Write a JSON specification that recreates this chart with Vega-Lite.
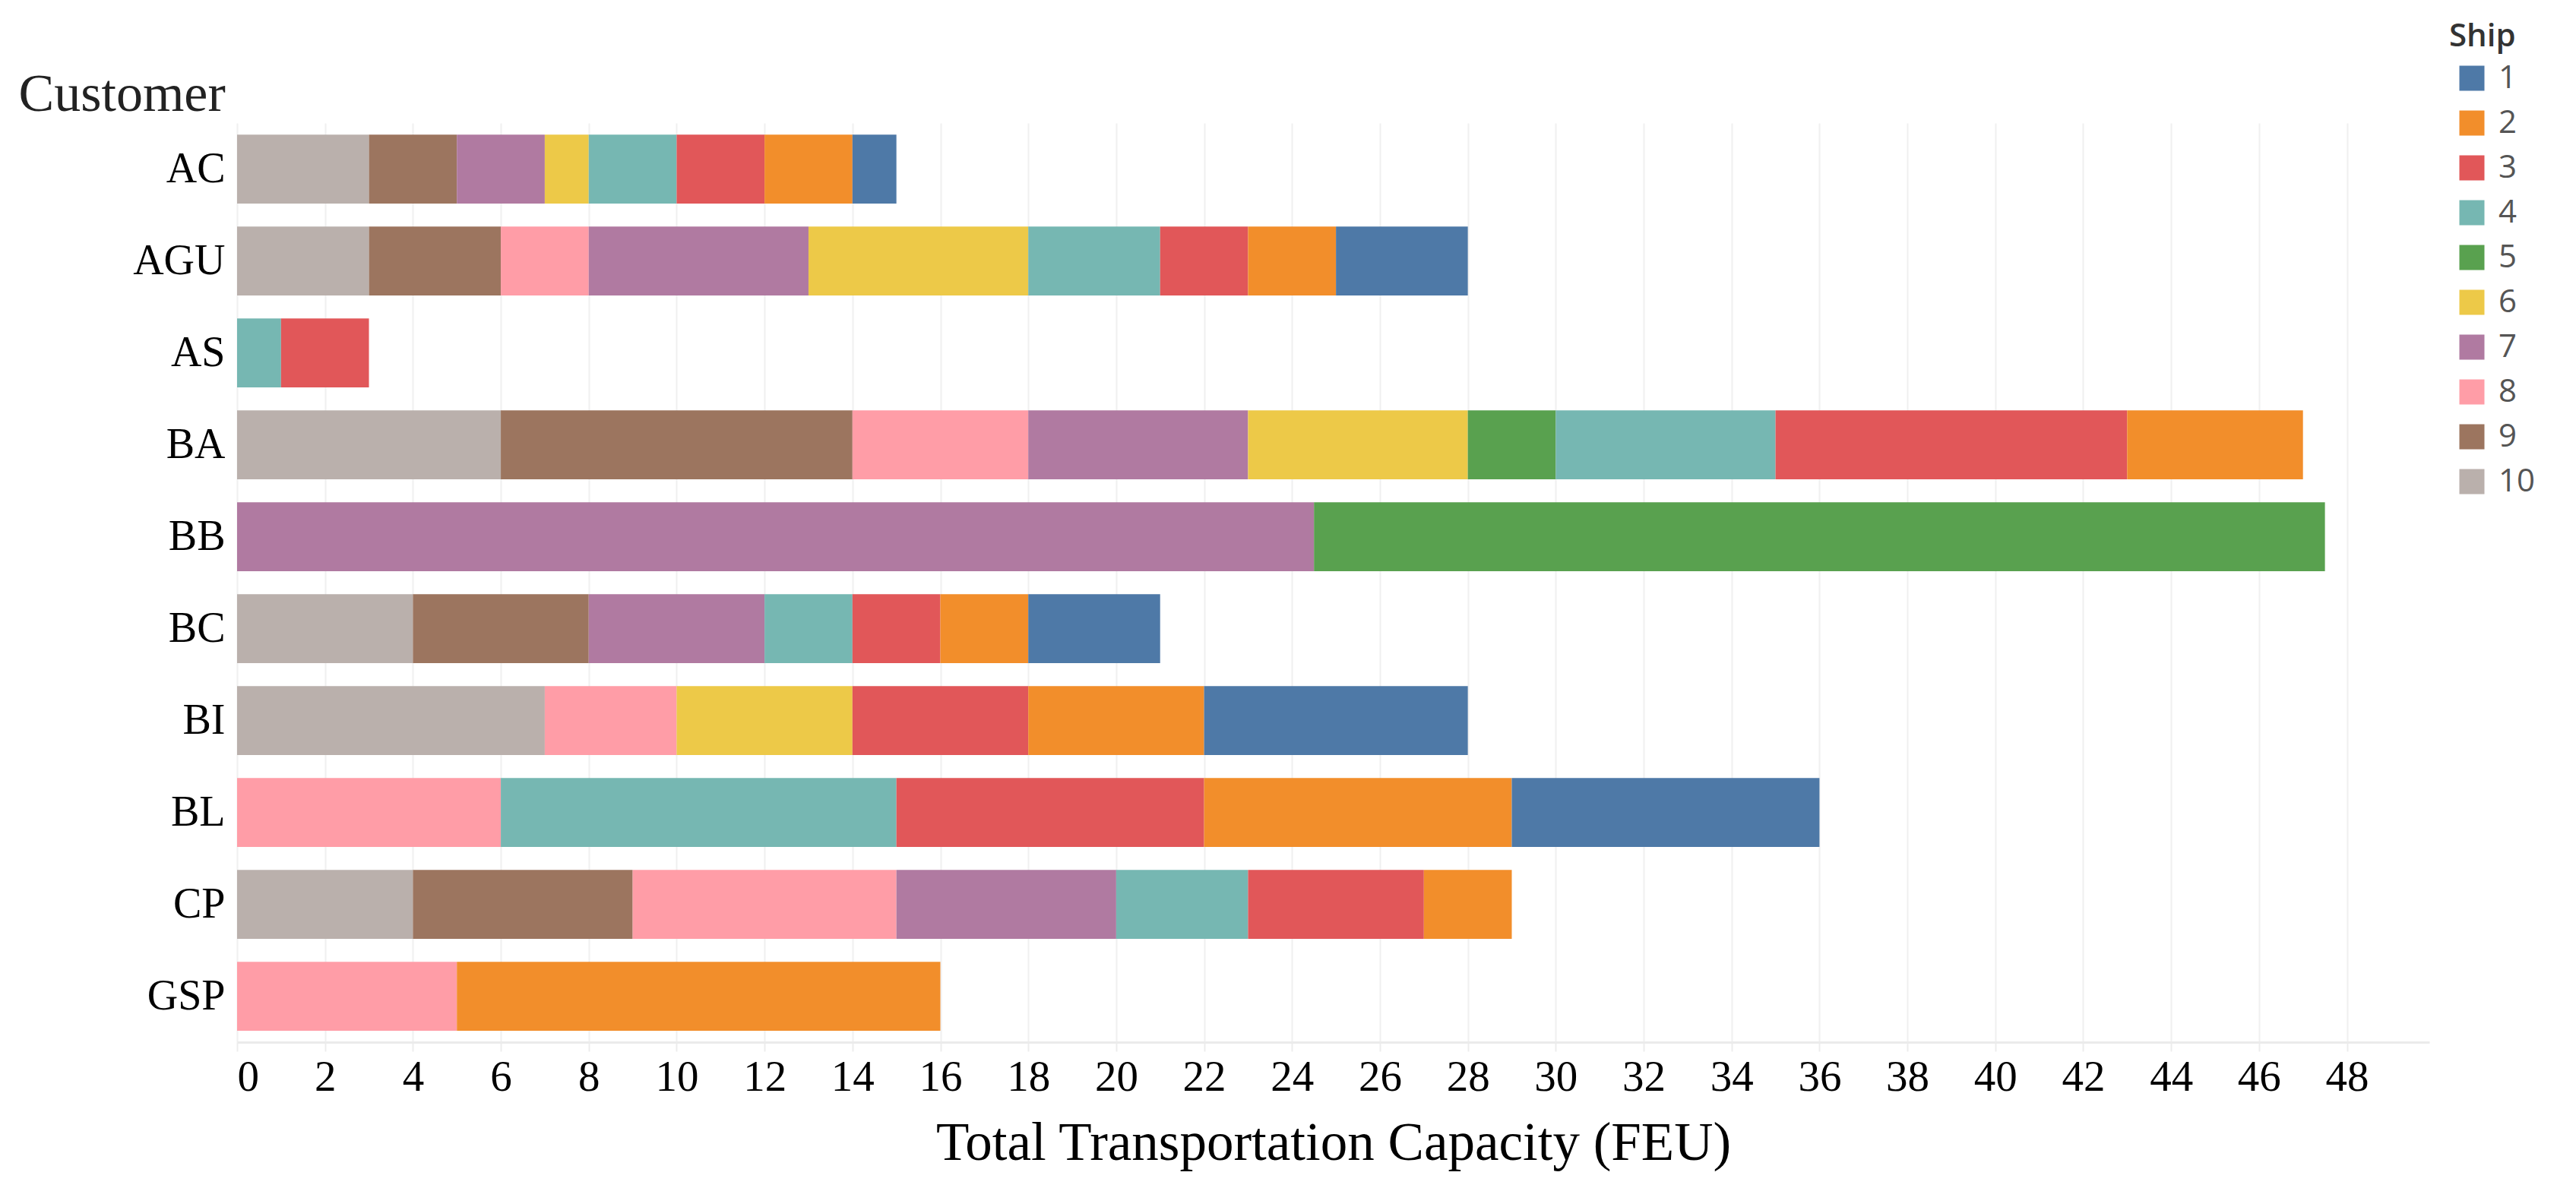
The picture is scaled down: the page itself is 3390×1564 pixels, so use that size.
{
  "$schema": "https://vega.github.io/schema/vega-lite/v6.json",
  "width": 2885,
  "height": 1210,
  "autosize": "none",
  "padding": {"left": 312, "top": 162, "right": 193, "bottom": 192},
  "background": "white",
  "config": {"view": {"stroke": null}},
  "data": {"values": [
    {"Customer": "AC", "Ship": 10, "FEU": 3},
    {"Customer": "AC", "Ship": 9, "FEU": 2},
    {"Customer": "AC", "Ship": 7, "FEU": 2},
    {"Customer": "AC", "Ship": 6, "FEU": 1},
    {"Customer": "AC", "Ship": 4, "FEU": 2},
    {"Customer": "AC", "Ship": 3, "FEU": 2},
    {"Customer": "AC", "Ship": 2, "FEU": 2},
    {"Customer": "AC", "Ship": 1, "FEU": 1},
    {"Customer": "AGU", "Ship": 10, "FEU": 3},
    {"Customer": "AGU", "Ship": 9, "FEU": 3},
    {"Customer": "AGU", "Ship": 8, "FEU": 2},
    {"Customer": "AGU", "Ship": 7, "FEU": 5},
    {"Customer": "AGU", "Ship": 6, "FEU": 5},
    {"Customer": "AGU", "Ship": 4, "FEU": 3},
    {"Customer": "AGU", "Ship": 3, "FEU": 2},
    {"Customer": "AGU", "Ship": 2, "FEU": 2},
    {"Customer": "AGU", "Ship": 1, "FEU": 3},
    {"Customer": "AS", "Ship": 4, "FEU": 1},
    {"Customer": "AS", "Ship": 3, "FEU": 2},
    {"Customer": "BA", "Ship": 10, "FEU": 6},
    {"Customer": "BA", "Ship": 9, "FEU": 8},
    {"Customer": "BA", "Ship": 8, "FEU": 4},
    {"Customer": "BA", "Ship": 7, "FEU": 5},
    {"Customer": "BA", "Ship": 6, "FEU": 5},
    {"Customer": "BA", "Ship": 5, "FEU": 2},
    {"Customer": "BA", "Ship": 4, "FEU": 5},
    {"Customer": "BA", "Ship": 3, "FEU": 8},
    {"Customer": "BA", "Ship": 2, "FEU": 4},
    {"Customer": "BB", "Ship": 7, "FEU": 24.5},
    {"Customer": "BB", "Ship": 5, "FEU": 23},
    {"Customer": "BC", "Ship": 10, "FEU": 4},
    {"Customer": "BC", "Ship": 9, "FEU": 4},
    {"Customer": "BC", "Ship": 7, "FEU": 4},
    {"Customer": "BC", "Ship": 4, "FEU": 2},
    {"Customer": "BC", "Ship": 3, "FEU": 2},
    {"Customer": "BC", "Ship": 2, "FEU": 2},
    {"Customer": "BC", "Ship": 1, "FEU": 3},
    {"Customer": "BI", "Ship": 10, "FEU": 7},
    {"Customer": "BI", "Ship": 8, "FEU": 3},
    {"Customer": "BI", "Ship": 6, "FEU": 4},
    {"Customer": "BI", "Ship": 3, "FEU": 4},
    {"Customer": "BI", "Ship": 2, "FEU": 4},
    {"Customer": "BI", "Ship": 1, "FEU": 6},
    {"Customer": "BL", "Ship": 8, "FEU": 6},
    {"Customer": "BL", "Ship": 4, "FEU": 9},
    {"Customer": "BL", "Ship": 3, "FEU": 7},
    {"Customer": "BL", "Ship": 2, "FEU": 7},
    {"Customer": "BL", "Ship": 1, "FEU": 7},
    {"Customer": "CP", "Ship": 10, "FEU": 4},
    {"Customer": "CP", "Ship": 9, "FEU": 5},
    {"Customer": "CP", "Ship": 8, "FEU": 6},
    {"Customer": "CP", "Ship": 7, "FEU": 5},
    {"Customer": "CP", "Ship": 4, "FEU": 3},
    {"Customer": "CP", "Ship": 3, "FEU": 4},
    {"Customer": "CP", "Ship": 2, "FEU": 2},
    {"Customer": "GSP", "Ship": 8, "FEU": 5},
    {"Customer": "GSP", "Ship": 2, "FEU": 11}
  ]},
  "mark": {"type": "bar"},
  "encoding": {
    "y": {
      "field": "Customer",
      "type": "nominal",
      "scale": {"paddingInner": 0.25, "paddingOuter": 0.125},
      "axis": {
        "title": "Customer",
        "titleFont": "Liberation Serif",
        "titleFontSize": 70,
        "titleFontWeight": "normal",
        "titleColor": "#222222",
        "titleAngle": 0,
        "titleAlign": "left",
        "titleBaseline": "alphabetic",
        "titleX": -288,
        "titleY": -17,
        "labelFont": "Liberation Serif",
        "labelFontSize": 56,
        "labelColor": "#000000",
        "labelPadding": 16,
        "ticks": false,
        "domain": false,
        "grid": false
      }
    },
    "x": {
      "field": "FEU",
      "type": "quantitative",
      "stack": "zero",
      "scale": {"domain": [0, 49.875], "nice": false},
      "axis": {
        "title": "Total Transportation Capacity (FEU)",
        "titleFont": "Liberation Serif",
        "titleFontSize": 71,
        "titleFontWeight": "normal",
        "titleColor": "#000000",
        "titleBaseline": "alphabetic",
        "titleY": 154,
        "values": [0, 2, 4, 6, 8, 10, 12, 14, 16, 18, 20, 22, 24, 26, 28, 30, 32, 34, 36, 38, 40, 42, 44, 46, 48],
        "labelFont": "Liberation Serif",
        "labelFontSize": 57,
        "labelColor": "#000000",
        "labelPadding": 6,
        "tickColor": "#ececec",
        "tickSize": 12,
        "tickWidth": 2,
        "domainColor": "#ebebeb",
        "domainWidth": 3,
        "grid": true,
        "gridColor": "#f0f0f0",
        "gridWidth": 2
      }
    },
    "color": {
      "field": "Ship",
      "type": "nominal",
      "scale": {
        "domain": [1, 2, 3, 4, 5, 6, 7, 8, 9, 10],
        "range": ["#4e79a7", "#f28e2b", "#e15759", "#76b7b2", "#59a14f", "#edc948", "#b07aa1", "#ff9da7", "#9c755f", "#bab0ac"]
      },
      "legend": {
        "orient": "none",
        "legendX": 2911,
        "legendY": -134,
        "title": "Ship",
        "titleFont": "Open Sans",
        "titleFontSize": 42,
        "titleFontWeight": 600,
        "titleColor": "#333333",
        "titlePadding": 12,
        "labelFont": "Open Sans",
        "labelFontSize": 42,
        "labelColor": "#555555",
        "labelOffset": 14,
        "symbolOffset": 9,
        "symbolType": "square",
        "symbolSize": 1089,
        "symbolStrokeWidth": 0,
        "rowPadding": 17
      }
    },
    "order": {"field": "Ship", "type": "quantitative", "sort": "descending"}
  }
}
